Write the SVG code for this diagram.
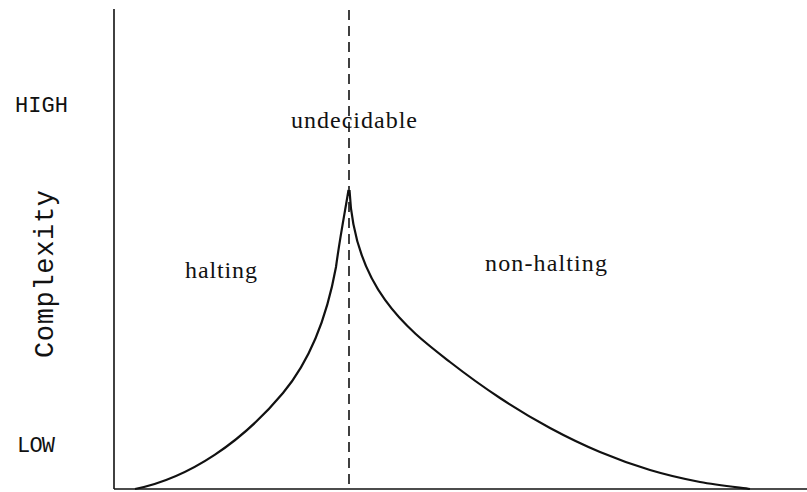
<svg xmlns="http://www.w3.org/2000/svg" width="807" height="492" viewBox="0 0 807 492">
<style>
.mono{font-family:"Liberation Mono","DejaVu Sans Mono",monospace;fill:#111}
.serif{font-family:"Liberation Serif","DejaVu Serif",serif;fill:#111;font-size:24px}
.axis{stroke:#111;stroke-width:1.6;fill:none}
.dash{stroke:#111;stroke-width:1.6;fill:none;stroke-dasharray:10 6}
.curve{stroke:#111;stroke-width:2.2;fill:none;stroke-linejoin:round}
</style>
<rect width="807" height="492" fill="#fff"/>
<g id="axes">
<line class="axis" x1="114" y1="9" x2="114" y2="489"/>
<line class="axis" x1="114" y1="489" x2="807" y2="489"/>
</g>
<g id="connectors">
<line class="dash" x1="349" y1="10" x2="349" y2="489"/>
<path id="halting-curve" class="curve" d="M135,489 C190,478 243,441 283,393 C308,363 326,322 336,267 C340,237 346,206 348.5,190"/>
<path id="nonhalting-curve" class="curve" d="M349.5,190 C354,290 410,331 450,362 C466.7,375 483.3,387 500,398 C516.7,409 533.3,419 550,428 C566.7,437 583.3,445 600,452 C616.7,459 633.3,465 650,470 C666.7,475 683.3,478.8 700,482 C716.7,485.2 741.7,487.8 750,489"/>
</g>
<g id="labels">
<text class="mono" x="15" y="112" font-size="22" textLength="53">HIGH</text>
<text class="mono" x="17" y="452" font-size="22" textLength="38">LOW</text>
<text class="mono" font-size="27" transform="translate(53,358) rotate(-90)" textLength="168">Complexity</text>
</g>
<g id="undecidable"><text class="serif" x="291" y="128" textLength="126">undecidable</text></g>
<g id="halting"><text class="serif" x="185" y="278" textLength="72">halting</text></g>
<g id="non-halting"><text class="serif" x="485" y="271" textLength="122">non-halting</text></g>
</svg>
